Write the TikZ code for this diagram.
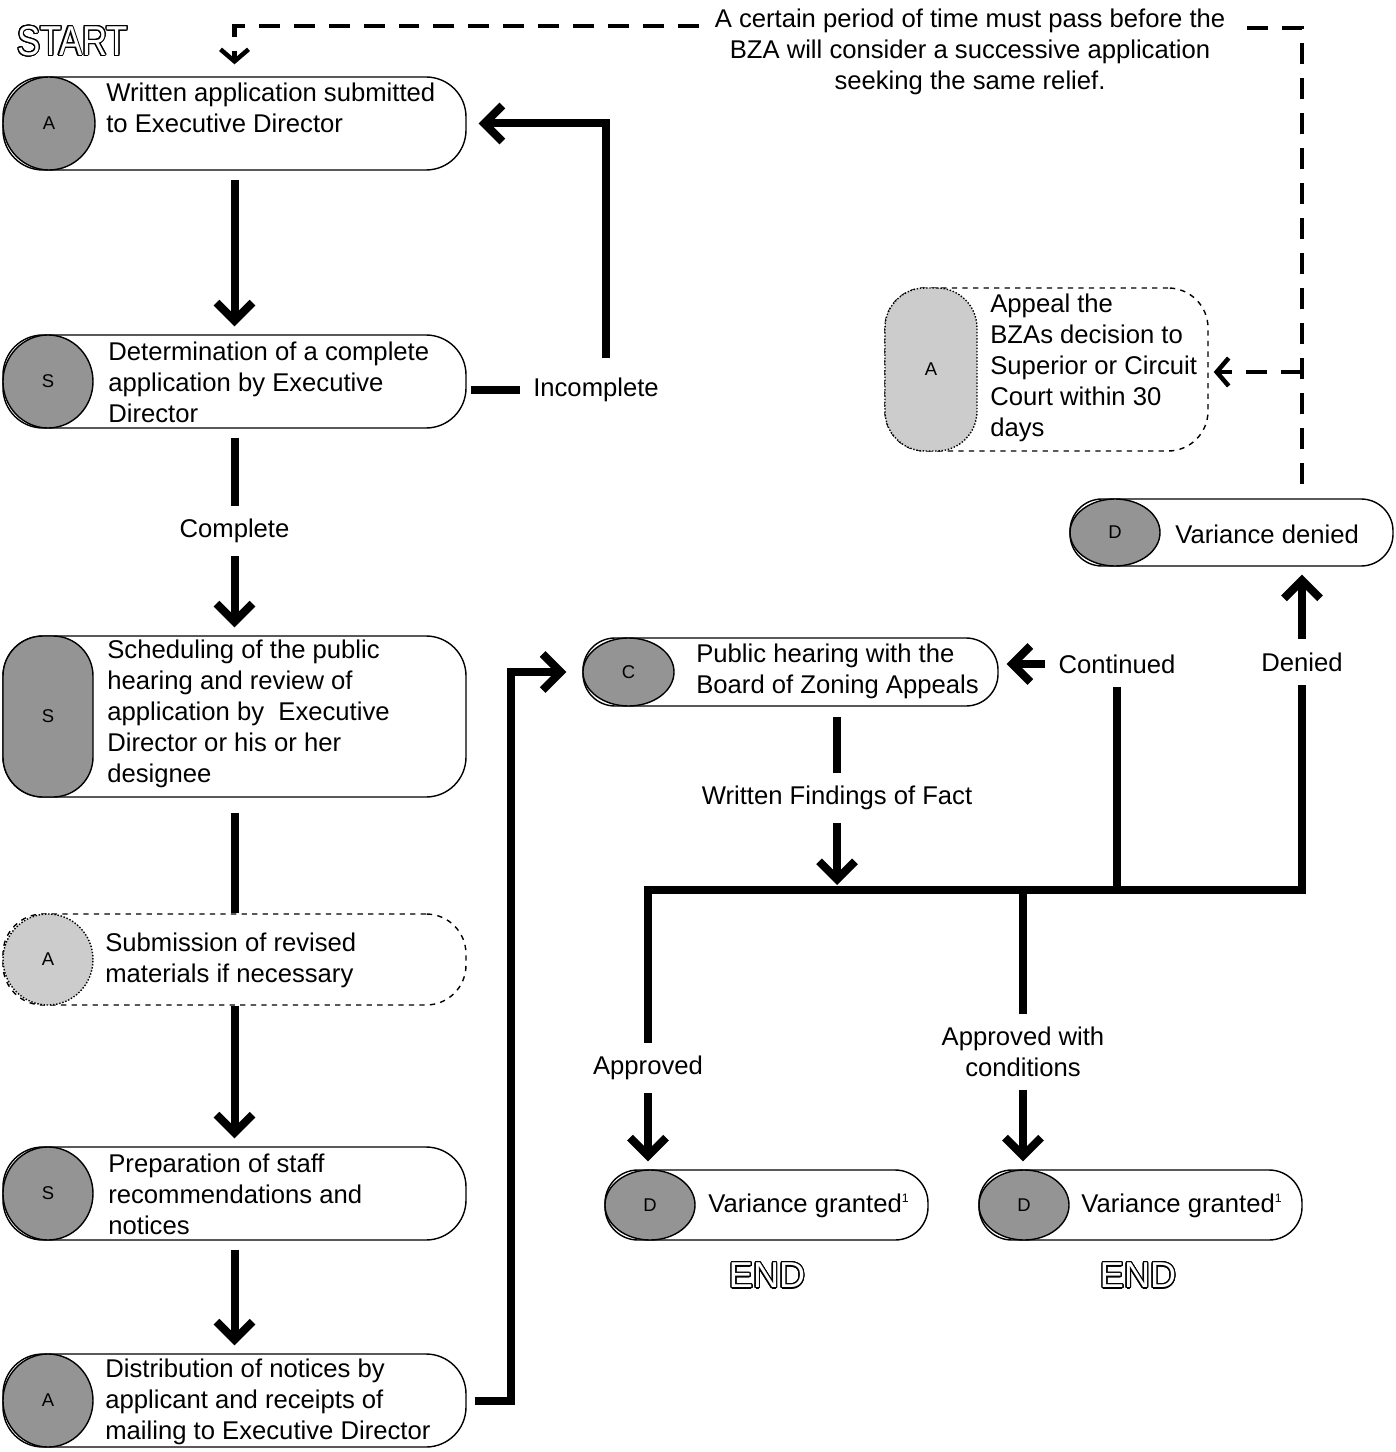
\documentclass[tikz,border=0pt]{standalone}
\usepackage{fontspec}
\setmainfont{Liberation Sans}
\usepackage{graphicx}
\usepackage{contour}
\usetikzlibrary{shapes.geometric,arrows.meta}

\definecolor{diskDark}{gray}{0.58}
\definecolor{diskLight}{gray}{0.80}
\contourlength{0.7pt}
\contournumber{24}
\newcommand{\hollowText}[1]{\contour{black}{\textcolor{white}{#1}}}
\newcommand{\noteMark}[1]{\raisebox{0.75ex}{\fontsize{7}{7}\selectfont #1}}

\begin{document}
\begin{tikzpicture}[x=0.02cm, y=-0.02cm]
			\useasboundingbox (0,0) rectangle (1395,1452);
			\begin{scope}
				[
					styleBox/.style 2 args={
						draw, fill=white, line width=0.8pt, rounded corners=0.8cm,
						minimum width=#1*0.02cm, minimum height=#2*0.02cm, inner sep=0pt
						},
					styleDisk/.style 2 args={
						ellipse, draw, fill=diskDark, line width=0.8pt,
						minimum width=#1*0.02cm, minimum height=#2*0.02cm, inner sep=0pt,
						font=\fontsize{10.5}{12}\selectfont
						},
					styleDiskTall/.style 2 args={styleDisk={#1}{#2}, rectangle, rounded corners=0.8cm},
					light/.style={fill=diskLight, densely dotted},
					styleText/.style={anchor=west, align=left, inner sep=0pt, font=\fontsize{14.6}{17.6}\selectfont},
					styleLabel/.style={align=center, inner sep=0.26cm, font=\fontsize{14.6}{17.6}\selectfont},
				]
				% boxes
				\node(wri)[styleBox={463}{93}] at (234.5,123.5) {};
				\node(det)[styleBox={463}{93}] at (234.5,381.5) {};
				\node(sch)[styleBox={463}{161}] at (234.5,716.5) {};
				\node(sub)[styleBox={463}{91}, dashed] at (234.5,959.5) {};
				\node(pre)[styleBox={463}{93}] at (234.5,1193.5) {};
				\node(dis)[styleBox={463}{93}] at (234.5,1400.5) {};
				\node(pub)[styleBox={415}{68}, rounded corners=0.64cm] at (790.5,672) {};
				\node(vd)[styleBox={323}{67}, rounded corners=0.64cm] at (1231.5,532.5) {};
				\node(vg1)[styleBox={323}{70}, rounded corners=0.66cm] at (766.5,1205) {};
				\node(vg2)[styleBox={323}{70}, rounded corners=0.66cm] at (1140.5,1205) {};
				\node(app)[styleBox={323}{163}, dashed] at (1046.5,369.5) {};

				% disks
				\node(wriD)[styleDisk={92}{93}] at (49,123.5) {A};
				\node(detD)[styleDisk={90}{93}] at (48,381.5) {S};
				\node(schD)[styleDiskTall={90}{161}] at (48,716.5) {S};
				\node(subD)[styleDisk={90}{91}, light] at (48,959.5) {A};
				\node(preD)[styleDisk={90}{93}] at (48,1193.5) {S};
				\node(disD)[styleDisk={90}{93}] at (48,1400.5) {A};
				\node(pubD)[styleDisk={91}{68}] at (628.5,672) {C};
				\node(vdD)[styleDisk={90}{67}] at (1115,532.5) {D};
				\node(vg1D)[styleDisk={90}{70}] at (650,1205) {D};
				\node(vg2D)[styleDisk={90}{70}] at (1024,1205) {D};
				\node(appD)[styleDiskTall={92}{163}, light] at (931,369.5) {A};

				% texts
				\node(wriT)[styleText] at (106,108) {Written application submitted\\to Executive Director};
				\node(detT)[styleText] at (108,382) {Determination of a complete\\application by Executive\\Director};
				\node(schT)[styleText] at (107,714) {Scheduling of the public\\hearing and review of\\application by\ \ Executive\\Director or his or her\\designee};
				\node(subT)[styleText] at (105,960) {Submission of revised\\materials if necessary};
				\node(preT)[styleText] at (108,1194) {Preparation of staff\\recommendations and\\notices};
				\node(disT)[styleText] at (105,1402) {Distribution of notices by\\applicant and receipts of\\mailing to Executive Director};
				\node(pubT)[styleText] at (696,671) {Public hearing with the\\Board of Zoning Appeals};
				\node(vdT)[styleText] at (1175,534) {Variance denied};
				\node(vg1T)[styleText] at (708,1206) {Variance granted\noteMark{1}};
				\node(vg2T)[styleText] at (1081,1206) {Variance granted\noteMark{1}};
				\node(appT)[styleText] at (990,368) {Appeal the\\BZAs decision to\\Superior or Circuit\\Court within 30\\days};

				% labels
				\node(comp)[styleLabel] at (234.5,531) {Complete};
				\node(incl)[styleLabel] at (596,390) {Incomplete};
				\node(wfof)[styleLabel] at (837,798) {Written Findings of Fact};
				\node(appr)[styleLabel] at (648,1068) {Approved};
				\node(apwc)[styleLabel] at (1023,1052) {Approved with\\conditions};
				\node(cont)[styleLabel] at (1117,664) {Continued};
				\node(deni)[styleLabel] at (1302,662) {Denied};
				\node(note)[styleLabel, inner sep=0.3cm] at (970,52) {A certain period of time must pass before the\\BZA will consider a successive application\\seeking the same relief.};

				\node(start) at (72.5,41.5) {\fontsize{23.8}{24}\selectfont\scalebox{0.83}[1]{\hollowText{START}}};
				\node(end1) at (767,1276) {\fontsize{20.5}{22}\selectfont\hollowText{END}};
				\node(end2) at (1138,1276) {\fontsize{20.5}{22}\selectfont\hollowText{END}};

				\coordinate(tr) at (1302,28);
				\coordinate(tl) at (234.5,26);
				\coordinate(ja) at (1302,372);
				\coordinate(jr) at (1302,890);
			\end{scope}
			\begin{scope}
				[ line/.style = {line width=0.16cm},
				flow/.style = {line, ->, shorten >=0.16cm},
				fromBox/.style = {shorten <=0.18cm},
				dline/.style = {line width=0.09cm, dash pattern=on 0.42cm off 0.28cm},
				>={Straight Barb[length=0.36cm,width=0.72cm]}]
				\path
				(wri) edge[flow, fromBox]             (det)
				(det) edge[line, fromBox]             (comp)
				(comp) edge[flow]                     (sch)
				(sch) edge[line, shorten <=0.3cm]     (sub)
				(sub) edge[flow]                      (pre)
				(pre) edge[flow, fromBox]             (dis);

				\draw[line, shorten <=0.08cm] (det.east |- incl) -- (incl);
				\draw[flow, shorten <=0.14cm, shorten >=0.24cm] ([xshift=0.2cm]incl.north) |- (wri.east);
				\draw[flow, shorten <=0.16cm, shorten >=0.32cm] (dis.east) -- ++(44,0) |- (pub.west);

				\draw[line] (appr) |- (jr) -- (deni);
				\draw[flow] (appr) -- (appr |- vg1.north);
				\draw[flow] (deni) -- (deni |- vd.south);
				\draw[line, shorten <=0.2cm] (pub.south -| wfof) -- (wfof);
				\draw[flow, shorten >=0.1cm] (wfof) -- (wfof |- jr);
				\draw[line] (apwc |- jr) -- (apwc);
				\draw[flow] (apwc) -- (apwc |- vg2.north);
				\draw[line] (cont |- jr) -- (cont);
				\draw[flow] (cont) -- (pub.east |- cont);

				\draw[dline, shorten <=0.28cm] (vd.north -| tr) -- (tr) -- (note.east |- tr);
				\draw[dline, -{Straight Barb[length=0.24cm,width=0.56cm]}, shorten >=0.24cm] (note.west |- tl) -- (tl) -- (wri.north -| tl);
				\draw[dline, -{Straight Barb[length=0.24cm,width=0.56cm]}, shorten >=0.1cm] (ja) -- (app.east |- ja);
			\end{scope}
		\end{tikzpicture}
\end{document}
